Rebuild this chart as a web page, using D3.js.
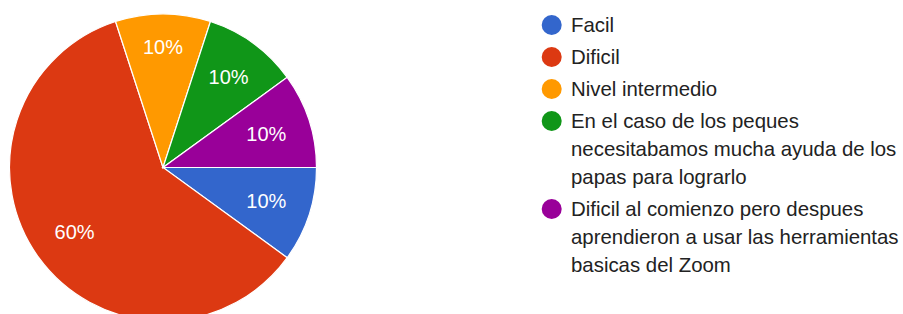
<!DOCTYPE html>
<html>
<head>
<meta charset="utf-8">
<script src="https://cdn.jsdelivr.net/npm/d3@7"></script>
<style>
  html, body { margin: 0; padding: 0; background: #fff; }
  svg { display: block; }
</style>
</head>
<body>
<svg id="chart" width="903" height="314"></svg>
<script>
const categories = [
  "Facil",
  "Dificil",
  "Nivel intermedio",
  "En el caso de los peques necesitabamos mucha ayuda de los papas para lograrlo",
  "Dificil al comienzo pero despues aprendieron a usar las herramientas basicas del Zoom"
];
const values = [10, 60, 10, 10, 10];
const colors = ["#3366cc", "#dc3912", "#ff9900", "#109618", "#990099"];

const svg = d3.select("#chart");
const cx = 163, cy = 167.5, r = 153.5;
const fontFamily = "Arial, 'Liberation Sans', Helvetica, sans-serif";

const total = d3.sum(values);
const pie = d3.pie().sort(null).value(d => d)
  .startAngle(Math.PI / 2).endAngle(Math.PI / 2 + 2 * Math.PI);
const arcs = pie(values);
const arc = d3.arc().innerRadius(0).outerRadius(r);

const g = svg.append("g").attr("transform", `translate(${cx},${cy})`);
g.selectAll("path.slice").data(arcs).join("path")
  .attr("class", "slice")
  .attr("d", arc)
  .attr("fill", (d, i) => colors[i])
  .attr("stroke", "#ffffff")
  .attr("stroke-width", 1.2);

// Labels: place so that the farthest corner of the label box lies at radius R0
const fmt = d3.format(".0%");
const R0 = r * 0.847;
const labelH = 15;
const labels = g.selectAll("text.pct").data(arcs).join("text")
  .attr("class", "pct")
  .attr("text-anchor", "middle")
  .attr("dy", "0.35em")
  .attr("fill", "#ffffff")
  .attr("font-family", fontFamily)
  .attr("font-size", 20)
  .text(d => fmt(d.value / total));
labels.each(function(d) {
  const w = this.getComputedTextLength();
  const a = (d.startAngle + d.endAngle) / 2;
  const ux = Math.sin(a), uy = -Math.cos(a);
  const b = Math.abs(ux) * w / 2 + Math.abs(uy) * labelH / 2;
  const c = (w * w + labelH * labelH) / 4 - R0 * R0;
  const dist = -b + Math.sqrt(b * b - c);
  d3.select(this).attr("transform", `translate(${dist * ux},${dist * uy})`);
});

// Legend
const legX = 551.7, textX = 571, legTop = 25;
const lineH = 28, itemGap = 4, maxW = 340, legFont = 20.4;
const leg = svg.append("g");

function wrap(label) {
  const words = label.split(" ");
  const lines = [];
  const tmp = leg.append("text").attr("font-family", fontFamily).attr("font-size", legFont);
  let cur = "";
  words.forEach(w => {
    const test = cur ? cur + " " + w : w;
    tmp.text(test);
    if (tmp.node().getComputedTextLength() > maxW && cur) {
      lines.push(cur);
      cur = w;
    } else {
      cur = test;
    }
  });
  if (cur) lines.push(cur);
  tmp.remove();
  return lines;
}

let y = legTop;
categories.forEach((c, i) => {
  const lines = wrap(c);
  const item = leg.append("g");
  item.append("circle")
    .attr("cx", legX).attr("cy", y).attr("r", 10)
    .attr("fill", colors[i]);
  const t = item.append("text")
    .attr("font-family", fontFamily)
    .attr("font-size", legFont)
    .attr("fill", "#222222");
  lines.forEach((ln, k) => {
    t.append("tspan")
      .attr("x", textX)
      .attr("y", y + k * lineH)
      .attr("dy", "0.35em")
      .text(ln);
  });
  y += lines.length * lineH + itemGap;
});
</script>
</body>
</html>
